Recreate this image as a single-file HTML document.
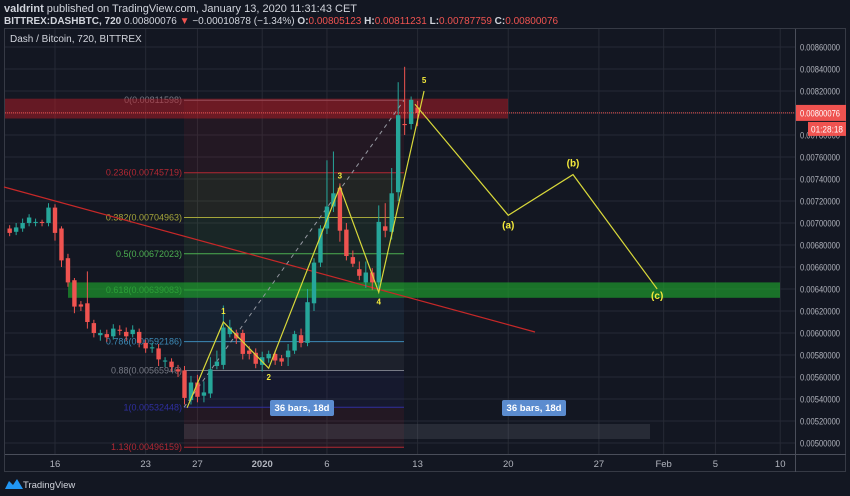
<!DOCTYPE html>
<html><head><meta charset="utf-8">
<style>
html,body{margin:0;padding:0;background:#131722;width:850px;height:496px;overflow:hidden;font-family:"Liberation Sans",sans-serif}
svg{position:absolute;left:0;top:0}
</style></head>
<body>
<svg id="c" width="850" height="496">
<text x="4" y="12" font-size="11" fill="#d1d4dc"><tspan font-weight="bold">valdrint</tspan> published on TradingView.com, January 13, 2020 11:31:43 CET</text>
<text x="4" y="24" font-size="10" fill="#d1d4dc"><tspan font-weight="bold">BITTREX:DASHBTC, 720</tspan>  0.00800076 <tspan fill="#ef5350">▼</tspan> −0.00010878 (−1.34%) <tspan font-weight="bold">O:</tspan><tspan fill="#ef5350">0.00805123</tspan> <tspan font-weight="bold">H:</tspan><tspan fill="#ef5350">0.00811231</tspan> <tspan font-weight="bold">L:</tspan><tspan fill="#ef5350">0.00787759</tspan> <tspan font-weight="bold">C:</tspan><tspan fill="#ef5350">0.00800076</tspan></text>
</svg>
<script>
// ---- data (prices in units of 1e-5 BTC) ----
const opens  = [695,692,695,700,700,701,700,714,695,668,648,626,627,609,598,599,597,603,601,599,601,591,586,586,574,574,567,566,539,555,543,545,570,571,599,600,600,584,582,571,577,581,577,578,584,598,591,627,664,695,715,732,694,669,658,646,655,646,697,692,728,790,790,805];
const closes = [691,696,700,705,701,700,714,691,666,646,624,624,610,600,600,596,604,602,597,603,591,586,587,576,575,569,565,541,555,542,546,567,574,605,605,595,581,581,572,578,581,575,574,584,599,591,628,664,695,715,727,693,670,663,652,655,646,701,693,727,798,789,812,800];
const highs  = [698,700,704,708,704,703,718,717,697,672,650,629,656,612,603,603,608,607,605,607,604,594,591,590,578,577,571,570,561,562,556,578,584,625,612,603,603,588,586,583,584,584,580,590,602,604,640,668,698,757,765,736,700,675,665,665,659,716,718,750,828,842,815,811];
const lows   = [688,689,692,697,697,697,697,684,660,642,618,620,604,596,593,592,594,598,593,596,587,582,582,570,569,565,560,535,535,537,537,541,567,567,596,590,576,576,568,565,573,571,570,570,581,587,588,620,660,690,710,683,666,660,648,641,639,640,687,685,720,780,785,788];
const firstBar = -7; // bar index (12h) of first candle relative to Dec 16 00:00
const priceTicks = [860,840,820,800,780,760,740,720,700,680,660,640,620,600,580,560,540,520,500];
const dateLabels = ["16","23","27","2020","6","13","20","27","Feb","5","10"];
const dateDays   = [0,7,11,16,21,28,35,42,47,51,56]; // days since Dec 16
const fibRatios = [0,0.236,0.382,0.5,0.618,0.786,0.88,1,1.13];
const fibTop = 811.598, fibBottom = 532.448;
const waveLabels = ["1","2","3","4","5","(a)","(b)","(c)"];
const waveDays = [13,16.5,22,25,28.5,35,40,46.5];
const wavePrices = [610,568,733,637,820,707,744,640];
const corrStartDay = 27.8, corrStartPrice = 808;

// ---- scales ----
const PX_DAY = 12.95, X0 = 55;
const xDay = d => X0 + d*PX_DAY;
const xBar = b => X0 + b*PX_DAY/2;
const yP = p => 443 - (p-500)/20*22;

const svg = document.getElementById('c');
const NS = 'http://www.w3.org/2000/svg';
function mk(tag, attrs, parent){const e=document.createElementNS(NS,tag);for(const k in attrs)e.setAttribute(k,attrs[k]);(parent||svg).appendChild(e);return e;}

const frame = mk('rect',{x:4.5,y:28.5,width:841,height:443,fill:'none',stroke:'#363a45'});



priceTicks.forEach(p=>{const l=mk('line',{x1:5,x2:795,y1:yP(p),y2:yP(p),stroke:'#262a35'});

});
dateDays.forEach(d=>{const l=mk('line',{x1:xDay(d),x2:xDay(d),y1:29,y2:454,stroke:'#262a35'});

});

const fibColors=['#787b86','#b22833','#a5a53a','#4caf50','#4caf50','#3d8ab6','#787b86','#2f2fa0','#b22833'];
const fibX1=184, fibX2=404;
const fibPrice = r => fibTop - r*(fibTop-fibBottom);
for(let i=0;i<fibRatios.length-1;i++){
  const y1=yP(fibPrice(fibRatios[i])), y2=yP(fibPrice(fibRatios[i+1]));
  const b=mk('rect',{x:fibX1,y:y1,width:fibX2-fibX1,height:y2-y1,fill:fibColors[i+1],opacity:0.1});
  
  
}
fibRatios.forEach((r,i)=>{
  const p=fibPrice(r), y=yP(p);
  const l=mk('line',{x1:fibX1,x2:fibX2,y1:y,y2:y,stroke:fibColors[i],'stroke-width':1});
  
  
  const t=mk('text',{x:fibX1-2,y:y+3,'font-size':9,fill:fibColors[i],'text-anchor':'end'});
  t.textContent = r+'('+(p/100000).toFixed(8)+')';
  
  
});

const rz=mk('rect',{x:5,y:yP(813),width:503,height:yP(795)-yP(813),fill:'#b71c25',opacity:0.5});


const gz=mk('rect',{x:68,y:yP(646),width:712,height:yP(632)-yP(646),fill:'#1e9a2c',opacity:0.7});


const gb=mk('rect',{x:184,y:424,width:466,height:15,fill:'#787b86',opacity:0.2});



const tl=mk('line',{x1:4,y1:187,x2:535,y2:332,stroke:'#c62828','stroke-width':1.2});


const fl=mk('line',{x1:184,y1:yP(fibBottom),x2:404,y2:yP(fibTop),stroke:'#9598a1','stroke-dasharray':'4 4'});



opens.forEach((o,i)=>{
  const c=closes[i], x=xBar(firstBar+i), up=c>=o, col=up?'#26a69a':'#ef5350';
  const w=mk('line',{x1:x,x2:x,y1:yP(highs[i]),y2:yP(lows[i]),stroke:col});
  
  
  const top=yP(Math.max(o,c)), bot=yP(Math.min(o,c));
  const b=mk('rect',{x:x-2.2,y:top,width:4.4,height:Math.max(1,bot-top),fill:col});
  
  
});

const cp=mk('line',{x1:5,x2:795,y1:yP(800.076),y2:yP(800.076),stroke:'#ef5350','stroke-dasharray':'1 1'});



const start=[xDay(10.2),yP(532)];
let pts=[start];
waveDays.forEach((d,i)=>pts.push([xDay(d),yP(wavePrices[i])]));
const wl=mk('polyline',{points:pts.slice(0,6).map(p=>p.join(',')).join(' '),fill:'none',stroke:'#d8d83a','stroke-width':1.2});


const pp=[[xDay(corrStartDay),yP(corrStartPrice)]].concat(pts.slice(6));
const cl=mk('polyline',{points:pp.map(p=>p.join(',')).join(' '),fill:'none',stroke:'#d8d83a','stroke-width':1.2});


const offs=[-8,12,-8,12,-8,13,-8,10];
waveLabels.forEach((lab,i)=>{
  const t=mk('text',{x:pts[i+1][0],y:pts[i+1][1]+offs[i],'font-size':lab.length>1?10:8,'font-weight':'bold',fill:'#f5eb3b','text-anchor':'middle'});
  t.textContent=lab;
  
  
});

[[270,'36 bars, 18d'],[502,'36 bars, 18d']].forEach(([x,s])=>{
  const r=mk('rect',{x:x,y:400,width:64,height:16,rx:2,fill:'#5b8ccf'});
  
  
  const t=mk('text',{x:x+32,y:411,'font-size':9.5,'font-weight':'bold',fill:'#fff','text-anchor':'middle'});
  t.textContent=s;
  
  
});

const ax=mk('line',{x1:795.5,x2:795.5,y1:29,y2:472,stroke:'#4a4e5a'});


const bx=mk('line',{x1:5,x2:846,y1:454.5,y2:454.5,stroke:'#4a4e5a'});


priceTicks.forEach(p=>{
  const t=mk('text',{x:800,y:yP(p)+3.5,'font-size':9,fill:'#b2b5be',textLength:40,lengthAdjust:'spacingAndGlyphs'});
  t.textContent=(p/100000).toFixed(8);
  
  
});
dateLabels.forEach((s,i)=>{
  const t=mk('text',{x:xDay(dateDays[i]),y:467,'font-size':9.5,fill:'#b2b5be','text-anchor':'middle','font-weight':s==='2020'?'bold':'normal'});
  t.textContent=s;
  
  
});
const pt=mk('rect',{x:796,y:yP(800.076)-8,width:50,height:16,fill:'#ef5350'});


const ptt=mk('text',{x:800,y:yP(800.076)+3.5,'font-size':9,fill:'#fff',textLength:40,lengthAdjust:'spacingAndGlyphs'});
ptt.textContent='0.00800076';


const ct=mk('rect',{x:808,y:yP(800.076)+9,width:38,height:14,fill:'#ef5350'});


const ctt=mk('text',{x:811,y:yP(800.076)+19.5,'font-size':9,fill:'#fff',textLength:32,lengthAdjust:'spacingAndGlyphs'});
ctt.textContent='01:28:18';



const tt=mk('text',{x:10,y:42,'font-size':10,fill:'#d1d4dc'});
tt.textContent='Dash / Bitcoin, 720, BITTREX';



const lg=mk('path',{d:'M5 489 L9 481 L13 485 L17 479 L23 489 Z',fill:'#2196f3'});


const lt=mk('text',{x:23,y:488,'font-size':9.5,fill:'#d1d4dc'});
lt.textContent='TradingView';


</script>
</body></html>
